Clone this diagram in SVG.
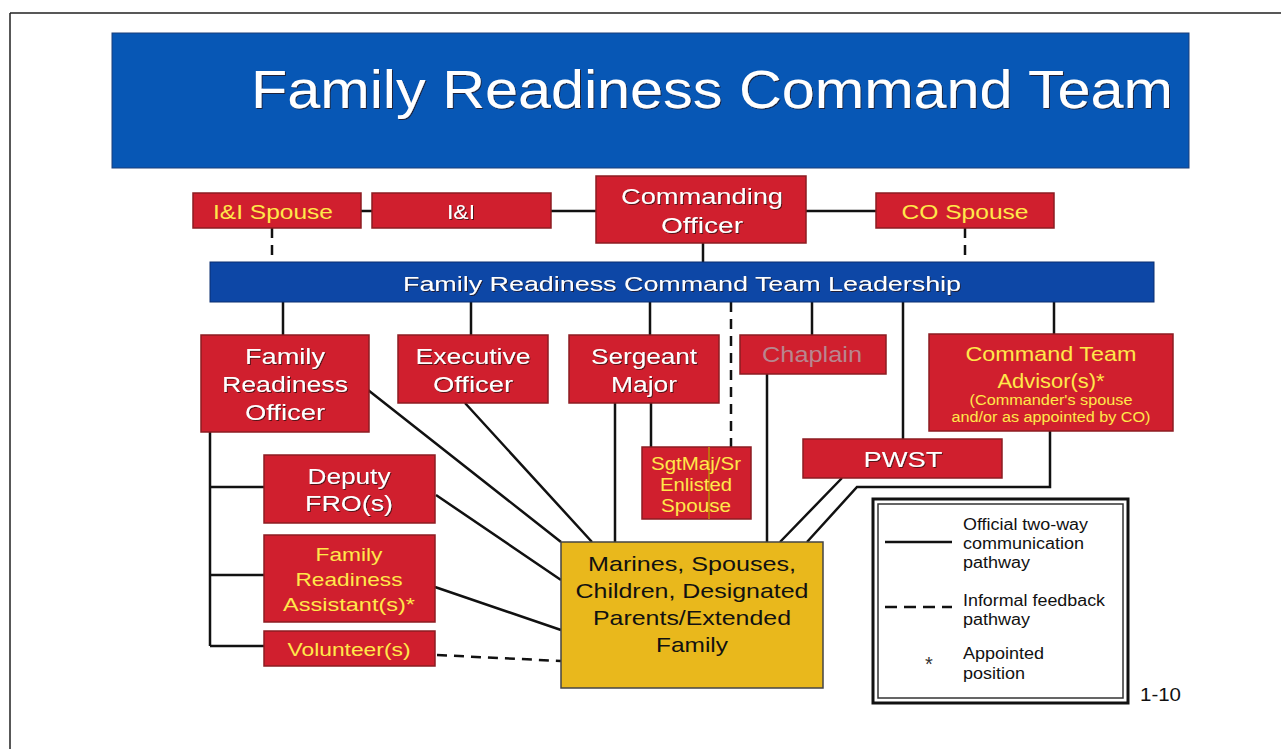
<svg xmlns="http://www.w3.org/2000/svg" width="1281" height="749" viewBox="0 0 1281 749">
<defs>
<filter id="sh" x="-5%" y="-20%" width="110%" height="140%">
<feDropShadow dx="1" dy="1" stdDeviation="0.6" flood-color="#2a1010" flood-opacity="0.75"/>
</filter>
<style>
text{font-family:"Liberation Sans",Arial,sans-serif;}
.box{fill:#d01f2e;stroke:#8c1c22;stroke-width:1.5;}
.w{fill:#ffffff;text-anchor:middle;filter:url(#sh);}
.y{fill:#ffe84a;text-anchor:middle;}
.k{fill:#111;text-anchor:middle;}
.ln{fill:none;stroke:#111;stroke-width:2.5;}
.ds{fill:none;stroke:#111;stroke-width:2.5;stroke-dasharray:10 7;}
.lg{fill:#111;font-size:16px;}
</style>
</defs>
<rect width="1281" height="749" fill="#ffffff"/>
<g id="frame" fill="none" stroke="#222" stroke-width="1.5">
<path d="M10 13 H1281 M10 13 V749"/>
</g>
<g id="title">
<rect x="112" y="33" width="1077" height="135" fill="#0757b5" stroke="#1a3f7a" stroke-width="1"/>
<text x="251" y="108" font-size="53" fill="#fff" textLength="922" lengthAdjust="spacingAndGlyphs" filter="url(#sh)">Family Readiness Command Team</text>
</g>
<g id="connectors">
<path class="ln" d="M361 211 H372 M551 211 H596 M806 211 H876 M703 243 V262"/>
<path class="ds" d="M272 228 V262 M965 228 V262"/>
<path class="ln" d="M283 302 V335 M471 302 V335 M650 302 V335 M812 302 V335 M903 302 V439 M1054 302 V334"/>
<path class="ds" d="M731 302 V447"/>
<path class="ln" d="M210 432 V646 M210 487 H264 M210 575 H264 M210 646 H264"/>
<path class="ln" d="M368 390 L561 542 M465 403 L592 542 M436 495 L561 580 M435 587 L561 630 M615 403 V542 M651 403 V447 M767 374 V542 M842 478 L780 542 M1050 431 V487 H857 L807 542"/>
<path class="ds" d="M437 655 L561 661"/>
</g>
<g id="leadership-bar">
<rect x="210" y="262" width="944" height="40" fill="#0d47a6" stroke="#0a2f70" stroke-width="1"/>
<text class="w" x="682" y="291" font-size="21" textLength="558" lengthAdjust="spacingAndGlyphs">Family Readiness Command Team Leadership</text>
</g>
<g id="ii-spouse">
<rect class="box" x="193" y="193" width="168" height="35"/>
<text class="y" x="273" y="218.5" font-size="21" textLength="120" lengthAdjust="spacingAndGlyphs">I&amp;I Spouse</text>
</g>
<g id="ii">
<rect class="box" x="372" y="193" width="179" height="35"/>
<text class="w" x="461" y="218.5" font-size="21" textLength="28" lengthAdjust="spacingAndGlyphs">I&amp;I</text>
</g>
<g id="commanding-officer">
<rect class="box" x="596" y="176" width="210" height="67"/>
<text class="w" x="702" y="204" font-size="22" textLength="162" lengthAdjust="spacingAndGlyphs">Commanding</text>
<text class="w" x="702" y="233" font-size="22" textLength="82" lengthAdjust="spacingAndGlyphs">Officer</text>
</g>
<g id="co-spouse">
<rect class="box" x="876" y="193" width="178" height="35"/>
<text class="y" x="965" y="218.5" font-size="21" textLength="127" lengthAdjust="spacingAndGlyphs">CO Spouse</text>
</g>
<g id="fro">
<rect class="box" x="201" y="335" width="168" height="97"/>
<text class="w" x="285" y="364" font-size="22" textLength="80" lengthAdjust="spacingAndGlyphs">Family</text>
<text class="w" x="285" y="392" font-size="22" textLength="126" lengthAdjust="spacingAndGlyphs">Readiness</text>
<text class="w" x="285" y="420" font-size="22" textLength="80" lengthAdjust="spacingAndGlyphs">Officer</text>
</g>
<g id="xo">
<rect class="box" x="398" y="335" width="150" height="68"/>
<text class="w" x="473" y="364" font-size="22" textLength="115" lengthAdjust="spacingAndGlyphs">Executive</text>
<text class="w" x="473" y="392" font-size="22" textLength="80" lengthAdjust="spacingAndGlyphs">Officer</text>
</g>
<g id="sgtmaj">
<rect class="box" x="569" y="335" width="150" height="68"/>
<text class="w" x="644" y="364" font-size="22" textLength="106" lengthAdjust="spacingAndGlyphs">Sergeant</text>
<text class="w" x="644" y="392" font-size="22" textLength="66" lengthAdjust="spacingAndGlyphs">Major</text>
</g>
<g id="chaplain">
<rect class="box" x="740" y="335" width="146" height="39"/>
<text x="812" y="362" font-size="22" fill="#b8868e" text-anchor="middle" textLength="100" lengthAdjust="spacingAndGlyphs">Chaplain</text>
</g>
<g id="cta">
<rect class="box" x="929" y="334" width="244" height="97"/>
<text class="y" x="1051" y="361" font-size="21" textLength="171" lengthAdjust="spacingAndGlyphs">Command Team</text>
<text class="y" x="1051" y="388" font-size="21" textLength="107" lengthAdjust="spacingAndGlyphs">Advisor(s)*</text>
<text class="y" x="1051" y="405" font-size="14" textLength="163" lengthAdjust="spacingAndGlyphs">(Commander's spouse</text>
<text class="y" x="1051" y="422" font-size="14" textLength="199" lengthAdjust="spacingAndGlyphs">and/or as appointed by CO)</text>
</g>
<g id="sgtmaj-spouse">
<rect class="box" x="642" y="447" width="109" height="72"/>
<line x1="709" y1="447" x2="709" y2="519" stroke="#c07010" stroke-width="2"/>
<text class="y" x="696" y="469.5" font-size="18" textLength="90" lengthAdjust="spacingAndGlyphs">SgtMaj/Sr</text>
<text class="y" x="696" y="490.5" font-size="18" textLength="72" lengthAdjust="spacingAndGlyphs">Enlisted</text>
<text class="y" x="696" y="511.5" font-size="18" textLength="70" lengthAdjust="spacingAndGlyphs">Spouse</text>
</g>
<g id="pwst">
<rect class="box" x="803" y="439" width="199" height="39"/>
<text class="w" x="903" y="467" font-size="22" textLength="79" lengthAdjust="spacingAndGlyphs">PWST</text>
</g>
<g id="deputy-fro">
<rect class="box" x="264" y="455" width="171" height="68"/>
<text class="w" x="349" y="484" font-size="22" textLength="83" lengthAdjust="spacingAndGlyphs">Deputy</text>
<text class="w" x="349" y="511" font-size="22" textLength="88" lengthAdjust="spacingAndGlyphs">FRO(s)</text>
</g>
<g id="fra">
<rect class="box" x="264" y="535" width="171" height="87"/>
<text class="y" x="349" y="561" font-size="19" textLength="67" lengthAdjust="spacingAndGlyphs">Family</text>
<text class="y" x="349" y="586" font-size="19" textLength="107" lengthAdjust="spacingAndGlyphs">Readiness</text>
<text class="y" x="349" y="611" font-size="19" textLength="132" lengthAdjust="spacingAndGlyphs">Assistant(s)*</text>
</g>
<g id="volunteers">
<rect class="box" x="264" y="631" width="171" height="35"/>
<text class="y" x="349" y="656" font-size="19" textLength="123" lengthAdjust="spacingAndGlyphs">Volunteer(s)</text>
</g>
<g id="families">
<rect x="561" y="542" width="262" height="146" fill="#e9b81c" stroke="#444" stroke-width="1.5"/>
<text class="k" x="692" y="570.5" font-size="21" textLength="208" lengthAdjust="spacingAndGlyphs">Marines, Spouses,</text>
<text class="k" x="692" y="597.5" font-size="21" textLength="233" lengthAdjust="spacingAndGlyphs">Children, Designated</text>
<text class="k" x="692" y="624.5" font-size="21" textLength="198" lengthAdjust="spacingAndGlyphs">Parents/Extended</text>
<text class="k" x="692" y="651.5" font-size="21" textLength="72" lengthAdjust="spacingAndGlyphs">Family</text>
</g>
<g id="legend">
<rect x="873" y="499" width="255" height="204" fill="#fff" stroke="#111" stroke-width="3"/>
<rect x="878" y="504" width="245" height="194" fill="none" stroke="#333" stroke-width="1.5"/>
<line x1="885" y1="542" x2="952" y2="542" stroke="#111" stroke-width="2.5"/>
<line x1="885" y1="607" x2="952" y2="607" stroke="#111" stroke-width="2.5" stroke-dasharray="12 7"/>
<text class="lg" x="963" y="530" textLength="125" lengthAdjust="spacingAndGlyphs">Official two-way</text>
<text class="lg" x="963" y="549" textLength="121" lengthAdjust="spacingAndGlyphs">communication</text>
<text class="lg" x="963" y="568" textLength="67" lengthAdjust="spacingAndGlyphs">pathway</text>
<text class="lg" x="963" y="606" textLength="142" lengthAdjust="spacingAndGlyphs">Informal feedback</text>
<text class="lg" x="963" y="625" textLength="67" lengthAdjust="spacingAndGlyphs">pathway</text>
<text x="929" y="671" font-size="20" fill="#333" text-anchor="middle">*</text>
<text class="lg" x="963" y="659" textLength="81" lengthAdjust="spacingAndGlyphs">Appointed</text>
<text class="lg" x="963" y="679" textLength="62" lengthAdjust="spacingAndGlyphs">position</text>
</g>
<text x="1140" y="701" font-size="18" fill="#111" textLength="41" lengthAdjust="spacingAndGlyphs">1-10</text>
</svg>
